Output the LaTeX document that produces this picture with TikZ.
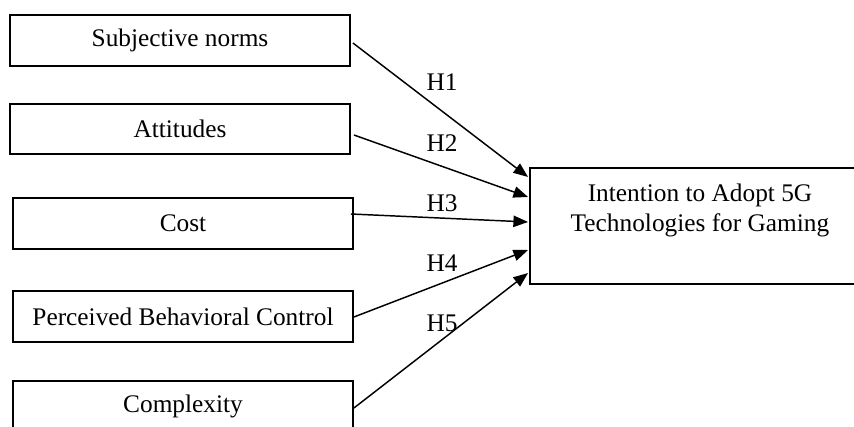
\documentclass[tikz,border=0pt]{standalone}
\usepackage{fontspec}
\setmainfont{Liberation Serif}
\usetikzlibrary{arrows.meta,calc}
\begin{document}
\begin{tikzpicture}[x=0.75pt,y=-0.75pt,
  box/.style={draw=black,line width=1.4pt,minimum width=255pt,minimum height=38pt,inner sep=0pt,font=\fontsize{19}{22.5}\selectfont},
  lbl/.style={font=\fontsize{19}{22.5}\selectfont,inner sep=0pt},
  arr/.style={draw=black,line width=1.1pt,-{Triangle[length=11pt,width=8.5pt]}}]
\clip (0,0) rectangle (854,427);
\useasboundingbox (0,0) rectangle (854,427);
\node[box] (sn) at (180,40.5) {Subjective norms};
\node[box,minimum height=37.5pt] (at) at (180,129) {Attitudes};
\node[box] (co) at (183,223.5) {Cost};
\node[box] (pb) at (183,316.5) {Perceived Behavioral Control};
\node[box] (cx) at (183,406.5) {Complexity};
\node[box,minimum height=87pt,minimum width=300pt] (dv) at (730,226) {};
\node[lbl,align=center] (dvt) at (700,210) {Intention to Adopt 5G\\Technologies for Gaming};
\draw[arr] ($(sn.east)+(2,2.5)$) -- ($(dv.west)+(-1,-49)$);
\draw[arr] ($(at.east)+(3,6)$) -- ($(dv.west)+(-1,-29)$);
\draw[arr] ($(co.east)+(-3,-9.5)$) -- ($(dv.west)+(-1,-4)$);
\draw[arr] ($(pb.east)+(0,0.5)$) -- ($(dv.west)+(-1,24)$);
\draw[arr] ($(cx.east)+(0,1.5)$) -- ($(dv.west)+(-1,47)$);
\node[lbl] (h1) at (442,82) {H1};
\node[lbl] (h2) at (442,143) {H2};
\node[lbl] (h3) at (442,203) {H3};
\node[lbl] (h4) at (442,263) {H4};
\node[lbl] (h5) at (442,323) {H5};
\end{tikzpicture}
\end{document}
